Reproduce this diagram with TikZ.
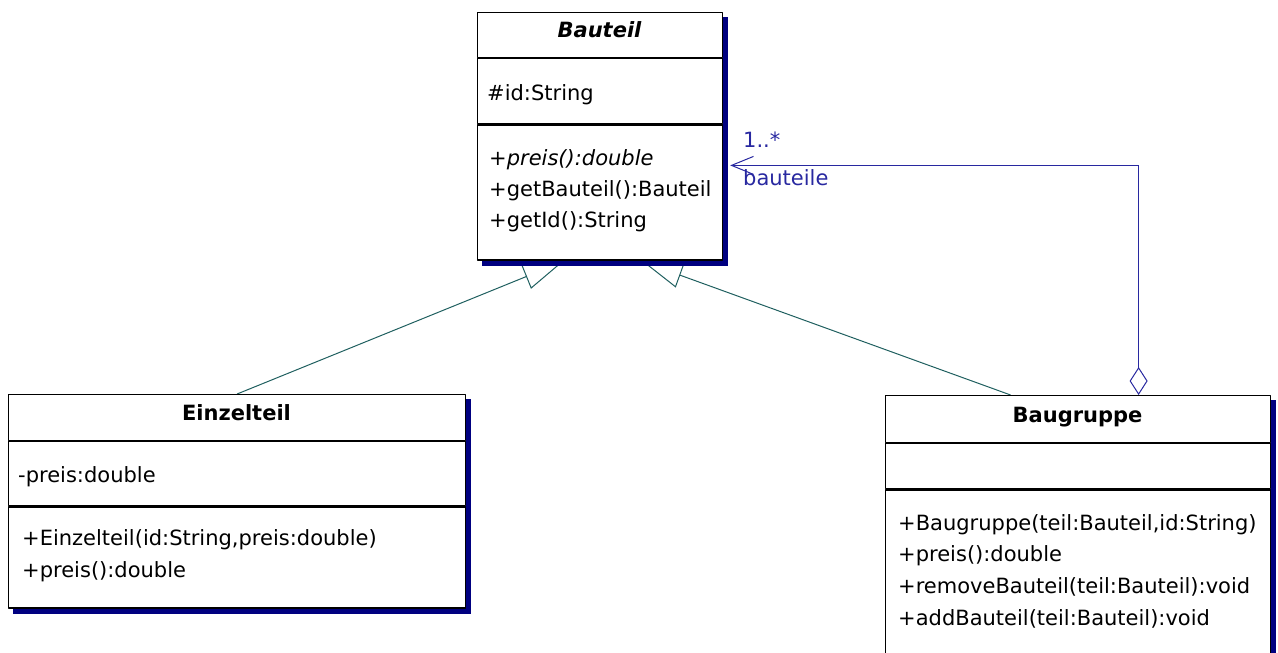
\documentclass[tikz,border=0pt]{standalone}
\usepackage{fontspec}
\setmainfont{DejaVu Sans}
\usetikzlibrary{arrows.meta,backgrounds}

\definecolor{shadowblue}{RGB}{0,0,128}
\definecolor{genteal}{RGB}{31,95,95}
\definecolor{assocblue}{RGB}{40,40,160}

\newcommand{\umlfont}{\fontsize{21}{25}\selectfont}

\tikzset{
  compartment/.style={draw=black, fill=white, line width=1.2pt, anchor=north west,
    inner sep=0pt, minimum width=#1},
  member/.style={anchor=base west, inner sep=0pt, font=\umlfont},
  classname/.style={anchor=base, inner sep=0pt, font=\umlfont\bfseries},
  inherit/.style={draw=genteal, line width=1pt, -{Triangle[open, length=40pt, width=26pt]}},
  aggregate/.style={draw=assocblue, line width=1pt,
    {Diamond[open, length=28pt, width=18pt]}-{Straight Barb[length=22pt, width=18pt]}},
}

\begin{document}
\begin{tikzpicture}[x=1pt, y=-1pt, line cap=round, line join=round]
  \useasboundingbox (0,0) rectangle (1278,653);

  % class Bauteil
  \node[compartment=245pt, minimum height=45pt] (bauteil) at (477,12) {};
  \node[compartment=245pt, minimum height=65pt] (bauteilattr) at (bauteil.south west) {};
  \node[compartment=245pt, minimum height=135pt] (bauteilops) at (bauteilattr.south west) {};
  \node[classname] (bauteilname) at (599.5,37) {\itshape Bauteil};
  \node[member] (bauteilattr1) at (487,100) {\#id:String};
  \foreach \txt [count=\i] in {{\itshape +preis():double}, {+getBauteil():Bauteil}, {+getId():String}}
    \node[member] (bauteilop\i) at (489,{165+31*(\i-1)}) {\txt};

  % class Einzelteil
  \node[compartment=457pt, minimum height=46pt] (einzelteil) at (8,394) {};
  \node[compartment=457pt, minimum height=64pt] (einzelteilattr) at (einzelteil.south west) {};
  \node[compartment=457pt, minimum height=101pt] (einzelteilops) at (einzelteilattr.south west) {};
  \node[classname] (einzelteilname) at (236.5,420) {Einzelteil};
  \node[member] (einzelteilattr1) at (18,482) {-preis:double};
  \foreach \txt [count=\i] in {{+Einzelteil(id:String,preis:double)}, {+preis():double}}
    \node[member] (einzelteilop\i) at (22,{545+32*(\i-1)}) {\txt};

  % class Baugruppe (runs off the bottom)
  \node[compartment=385pt, minimum height=47pt] (baugruppe) at (885,395) {};
  \node[compartment=385pt, minimum height=45pt] (baugruppeattr) at (baugruppe.south west) {};
  \node[compartment=385pt, minimum height=200pt] (baugruppeops) at (baugruppeattr.south west) {};
  \node[classname] (baugruppename) at (1077.5,422) {Baugruppe};
  \foreach \txt [count=\i] in {{+Baugruppe(teil:Bauteil,id:String)}, {+preis():double},
      {+removeBauteil(teil:Bauteil):void}, {+addBauteil(teil:Bauteil):void}}
    \node[member] (baugruppeop\i) at (898,{530+31.7*(\i-1)}) {\txt};

  % ends of the connectors
  \coordinate (baugruppeGen) at ([xshift=-67.5pt]baugruppe.north);
  \coordinate (baugruppeAgg) at ([xshift=60.5pt]baugruppe.north);
  \coordinate (bauteilLeft) at ([shift={(-37,1)}]bauteilops.south);
  \coordinate (bauteilRight) at ([shift={(42.5,1)}]bauteilops.south);
  \coordinate (bauteilSide) at ([shift={(7,41)}]bauteilops.north east);

  \begin{scope}[on background layer]
    \draw[inherit] (einzelteil.north) -- (bauteilLeft);
    \draw[inherit] (baugruppeGen) -- (bauteilRight);
    \draw[aggregate] (baugruppeAgg) -- (baugruppeAgg |- bauteilSide) -- (bauteilSide);
    % shadows
    \foreach \head/\foot in {bauteil/bauteilops, einzelteil/einzelteilops, baugruppe/baugruppeops}
      \fill[shadowblue] ([shift={(5,5)}]\head.north west) rectangle ([shift={(5,5)}]\foot.south east);
  \end{scope}

  \node[member, text=assocblue] (multiplicity) at (743,147) {1..*};
  \node[member, text=assocblue] (rolename) at (743,185) {bauteile};
\end{tikzpicture}
\end{document}
